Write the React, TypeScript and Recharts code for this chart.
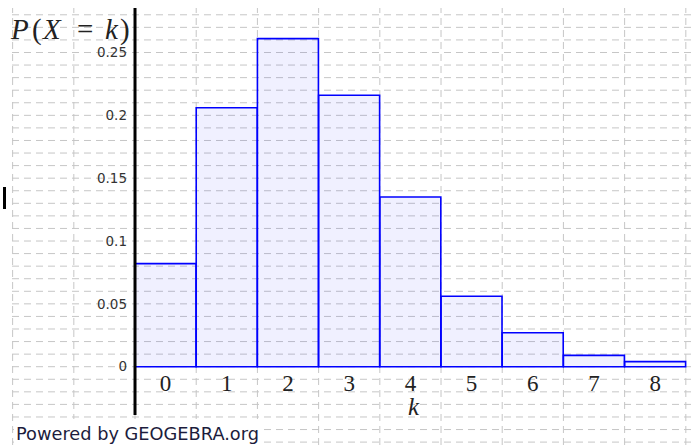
import React from "react";
import { ComposedChart, Bar, XAxis, YAxis, ReferenceLine, ReferenceDot } from "recharts";

// values of k and P(X = k)
const ks = [0, 1, 2, 3, 4, 5, 6, 7, 8];
const probs = [0.082, 0.206, 0.261, 0.216, 0.135, 0.056, 0.027, 0.009, 0.004];

// y tick values and labels
const yTicks = [0, 0.05, 0.1, 0.15, 0.2, 0.25];
const yTickLabels = ["0", "0.05", "0.1", "0.15", "0.2", "0.25"];

// grid lines (GeoGebra grid: 1 unit on x, 0.01 on y)
const gridX = [-2.5, -1.5, -0.5, 0.5, 1.5, 2.5, 3.5, 4.5, 5.5, 6.5, 7.5, 8.5];
const gridY = [
  -0.06, -0.05, -0.04, -0.03, -0.02, -0.01, 0, 0.01, 0.02, 0.03, 0.04, 0.05, 0.06,
  0.07, 0.08, 0.09, 0.1, 0.11, 0.12, 0.13, 0.14, 0.15, 0.16, 0.17, 0.18, 0.19, 0.2,
  0.21, 0.22, 0.23, 0.24, 0.25, 0.26, 0.27, 0.28,
];

const X_DOMAIN: [number, number] = [-2.51, 8.65];
const Y_DOMAIN: [number, number] = [-0.0623, 0.2854];
const AXIS_X = -0.5; // where the vertical axis crosses
const X_LABEL_Y = -0.0195; // baseline of the k labels
const Y_LABEL_X = -0.631; // right edge of the y tick labels

const data = ks.map((k, i) => ({ k, p: probs[i] }));

const xLabel = (text: string) => (props: any) => {
  const vb = props.viewBox || {};
  const cx = vb.x + (vb.width || 0) / 2;
  const cy = vb.y + (vb.height || 0) / 2;
  return (
    <text
      x={cx}
      y={cy}
      textAnchor="middle"
      fontFamily="'Liberation Serif', serif"
      fontSize={23}
      fill="#222"
    >
      {text}
    </text>
  );
};

const yLabel = (text: string) => (props: any) => {
  const vb = props.viewBox || {};
  const cx = vb.x + (vb.width || 0) / 2;
  const cy = vb.y + (vb.height || 0) / 2;
  return (
    <text
      x={cx}
      y={cy}
      dy={4.8}
      textAnchor="end"
      fontFamily="'DejaVu Sans', Verdana, sans-serif"
      fontSize={13.5}
      fill="#333"
    >
      {text}
    </text>
  );
};

const GRID_STROKE = "#c6c6c6";
const GRID_DASH = "7 5";

export default function App() {
  const gridProps: any = { zIndex: -100 };
  return (
    <div style={{ position: "absolute", left: 0, top: 0, width: 695, height: 445, background: "#fff" }}>
      <ComposedChart
        width={695}
        height={445}
        data={data}
        margin={{ top: 8, left: 12, right: 0, bottom: 0 }}
        barCategoryGap={0}
        barGap={0}
      >
        <XAxis
          type="number"
          dataKey="k"
          domain={X_DOMAIN}
          allowDataOverflow
          ticks={ks}
          hide
        />
        <YAxis
          type="number"
          domain={Y_DOMAIN}
          allowDataOverflow
          ticks={yTicks}
          hide
        />
        {gridY.map((v) => (
          <ReferenceLine
            key={"gy" + v}
            y={v}
            stroke={GRID_STROKE}
            strokeDasharray={GRID_DASH}
            strokeWidth={1}
            {...gridProps}
          />
        ))}
        {gridX.map((v) => (
          <ReferenceLine
            key={"gx" + v}
            x={v}
            stroke={GRID_STROKE}
            strokeDasharray={GRID_DASH}
            strokeWidth={1}
            {...gridProps}
          />
        ))}
        <Bar
          dataKey="p"
          fill="#0000ff"
          fillOpacity={0.06}
          stroke="#0000ff"
          strokeWidth={1.6}
          isAnimationActive={false}
        />
        <ReferenceLine
          segment={[
            { x: AXIS_X, y: 0.2854 },
            { x: AXIS_X, y: -0.0384 },
          ]}
          stroke="#000"
          strokeWidth={3}
          ifOverflow="visible"
        />
        {ks.map((k) => (
          <ReferenceDot
            key={"xl" + k}
            x={k}
            y={X_LABEL_Y}
            r={1}
            fill="none"
            stroke="none"
            ifOverflow="visible"
            label={{ content: xLabel(String(k)) }}
          />
        ))}
        {yTicks.map((v, i) => (
          <ReferenceDot
            key={"yl" + i}
            x={Y_LABEL_X}
            y={v}
            r={1}
            fill="none"
            stroke="none"
            ifOverflow="visible"
            label={{ content: yLabel(yTickLabels[i]) }}
          />
        ))}
      </ComposedChart>
      <svg
        width={695}
        height={445}
        style={{ position: "absolute", left: 0, top: 0, pointerEvents: "none" }}
      >
        <text y={39} fontFamily="'Liberation Serif', serif" fontSize={29} fill="#222">
          <tspan x={11} fontStyle="italic">P</tspan>
          <tspan x={32}>(</tspan>
          <tspan x={43} fontStyle="italic">X</tspan>
          <tspan x={77}>=</tspan>
          <tspan x={105} fontStyle="italic">k</tspan>
          <tspan x={120}>)</tspan>
        </text>
        <text
          x={413.5}
          y={415}
          textAnchor="middle"
          fontFamily="'Liberation Serif', serif"
          fontStyle="italic"
          fontSize={25}
          fill="#222"
        >
          k
        </text>
        <rect x={3} y={187} width={3} height={22} fill="#000" />
        <rect x={14} y={419} width={250} height={26} fill="#fff" />
        <text
          x={16}
          y={440}
          fontFamily="'DejaVu Sans', Verdana, sans-serif"
          fontSize={17}
          fill="#1c1c3c"
          textLength={243}
          lengthAdjust="spacingAndGlyphs"
        >
          Powered by GEOGEBRA.org
        </text>
      </svg>
    </div>
  );
}
